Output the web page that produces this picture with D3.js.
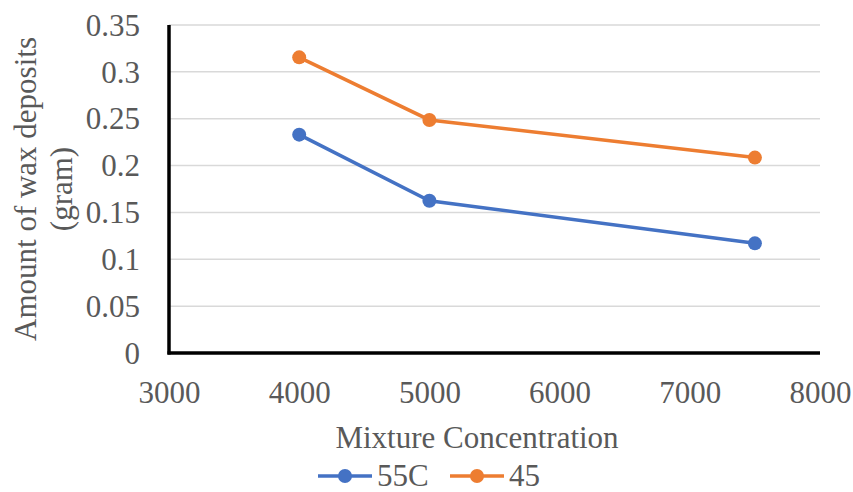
<!DOCTYPE html>
<html>
<head>
<meta charset="utf-8">
<script src="https://cdn.jsdelivr.net/npm/d3@7"></script>
<style>
html,body{margin:0;padding:0;background:#fff;}
</style>
</head>
<body>
<svg id="chart" width="853" height="492" font-family="Liberation Serif, Tinos, Times New Roman, Times, DejaVu Serif, serif"></svg>
<script>
const concentrations = [4000, 5000, 7500];
const series55C = [0.233, 0.1625, 0.117];
const series45 = [0.3155, 0.2487, 0.2085];
const seriesNames = ["55C", "45"];
const seriesColors = ["#4472C4", "#ED7D31"];
const xTicks = [3000, 4000, 5000, 6000, 7000, 8000];
const yTicks = [0, 0.05, 0.1, 0.15, 0.2, 0.25, 0.3, 0.35];
const xTitle = "Mixture Concentration";
const yTitleLines = ["Amount of wax deposits", "(gram)"];

const svg = d3.select("#chart");
const FONT = "Liberation Serif, Tinos, Times New Roman, Times, DejaVu Serif, serif";
const m = {left: 169, right: 820, top: 25, bottom: 353};
const x = d3.scaleLinear().domain([3000, 8000]).range([m.left, m.right]);
const y = d3.scaleLinear().domain([0, 0.35]).range([m.bottom, m.top]);
const fs = 31;
const textColor = "#595959";

// gridlines
svg.append("g").selectAll("line").data(yTicks.filter(d => d > 0)).join("line")
  .attr("x1", m.left).attr("x2", m.right)
  .attr("y1", d => y(d)).attr("y2", d => y(d))
  .attr("stroke", "#d9d9d9").attr("stroke-width", 1.5);

// y axis
const yAxis = svg.append("g").attr("transform", `translate(${m.left},0)`)
  .call(d3.axisLeft(y).tickValues(yTicks).tickSize(0).tickPadding(29)
    .tickFormat(d => d3.format("")(+d.toFixed(2))));
yAxis.attr("font-family", FONT).attr("font-size", fs);
yAxis.select(".domain").remove();
yAxis.selectAll("text").attr("font-family", FONT).attr("font-size", fs).attr("dy", "0.33em").attr("fill", textColor);

// x axis
const xAxis = svg.append("g").attr("transform", `translate(0,${m.bottom})`)
  .call(d3.axisBottom(x).tickValues(xTicks).tickSize(0).tickPadding(0).tickFormat(d3.format("d")));
xAxis.attr("font-family", FONT).attr("font-size", fs);
xAxis.select(".domain").remove();
xAxis.selectAll("text").attr("font-family", FONT).attr("font-size", fs).attr("dy", null).attr("y", 50).attr("fill", textColor);

// axis lines
svg.append("line").attr("x1", m.left).attr("x2", m.left).attr("y1", m.top).attr("y2", m.bottom + 1.5)
  .attr("stroke", "#000").attr("stroke-width", 3.5);
svg.append("line").attr("x1", m.left - 1.5).attr("x2", m.right).attr("y1", m.bottom).attr("y2", m.bottom)
  .attr("stroke", "#000").attr("stroke-width", 3.5);

// series
const allSeries = [series55C, series45];
const line = d3.line().x((d, i) => x(concentrations[i])).y(d => y(d));
allSeries.forEach((vals, si) => {
  svg.append("path").datum(vals).attr("d", line).attr("fill", "none")
    .attr("stroke", seriesColors[si]).attr("stroke-width", 3.5);
  svg.append("g").selectAll("circle").data(vals).join("circle")
    .attr("cx", (d, i) => x(concentrations[i])).attr("cy", d => y(d)).attr("r", 7)
    .attr("fill", seriesColors[si]);
});

// titles
svg.append("text").attr("x", 477).attr("y", 448).attr("text-anchor", "middle")
  .attr("font-family", FONT).attr("font-size", fs).attr("fill", textColor).text(xTitle);
const yt = svg.append("text").attr("transform", "translate(0,189) rotate(-90)").attr("text-anchor", "middle")
  .attr("font-family", FONT).attr("font-size", fs).attr("fill", textColor);
yTitleLines.forEach((t, i) => yt.append("tspan").attr("x", 0).attr("y", 36 + i * 36).text(t));

// legend
const legendX = [318, 450];
seriesNames.forEach((n, i) => {
  const g = svg.append("g").attr("transform", `translate(${legendX[i]},476)`);
  g.append("line").attr("x1", 0).attr("x2", 54).attr("stroke", seriesColors[i]).attr("stroke-width", 3.5);
  g.append("circle").attr("cx", 27).attr("r", 7).attr("fill", seriesColors[i]);
  g.append("text").attr("x", 59).attr("y", 9.5).attr("font-family", FONT).attr("font-size", fs)
    .attr("fill", textColor).text(n);
});
</script>
</body>
</html>
